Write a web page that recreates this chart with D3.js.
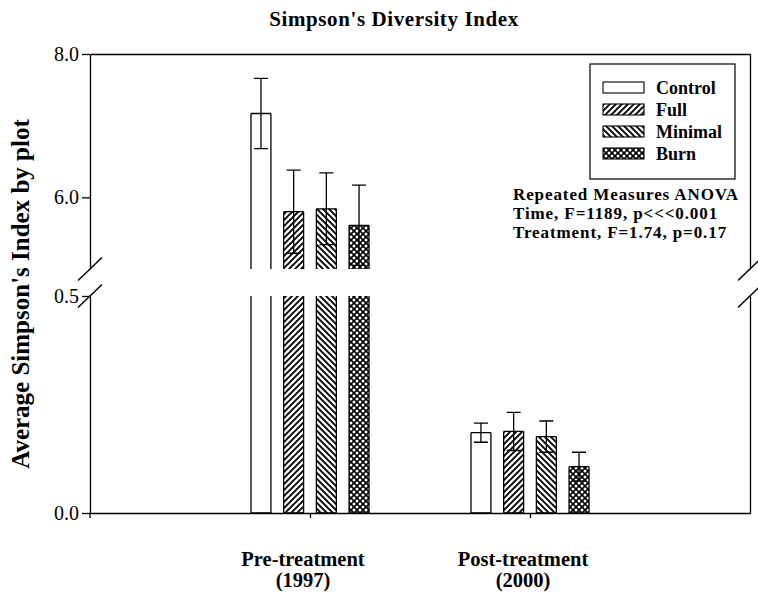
<!DOCTYPE html>
<html><head><meta charset="utf-8">
<script src="https://cdn.jsdelivr.net/npm/d3@7"></script>
<style>body{margin:0;background:#fff;} svg{display:block;font-family:"Liberation Serif","Times New Roman",serif;}</style>
</head><body><svg id="c" width="758" height="593"></svg>
<script>
// ---- data ----
const groups = ["Pre", "Post"];
const groupLabels = [["Pre-treatment", "(1997)"], ["Post-treatment", "(2000)"]];
const series = ["Control", "Full", "Minimal", "Burn"];
const preMeans = [7.17, 5.80, 5.84, 5.61];
const preErr = [0.49, 0.58, 0.50, 0.56];
const postMeans = [0.185, 0.188, 0.176, 0.107];
const postErr = [0.022, 0.044, 0.036, 0.033];
const upperTicks = [6.0, 8.0];
const lowerTicks = [0.0, 0.5];
const upperDomain = [5, 8];
const lowerDomain = [0, 0.5];
const titleText = "Simpson's Diversity Index";
const yLabelText = "Average Simpson's Index by plot";
const anovaLines = ["Repeated Measures ANOVA", "Time, F=1189, p<<<0.001", "Treatment, F=1.74, p=0.17"];

const means = [preMeans, postMeans];
const errs = [preErr, postErr];

// ---- layout ----
const L = 90, R = 750, T = 54, B = 513;
const upBottom = 269, loTop = 296;
const svg = d3.select("#c");

const yUp = d3.scaleLinear().domain(upperDomain).range([upBottom, T]);
const yLo = d3.scaleLinear().domain(lowerDomain).range([B, loTop]);
const x0 = d3.scalePoint().domain(groups).range([L, R]).padding(1);
const x1 = d3.scaleBand().domain(series).range([-65.4, 65.4]).paddingInner(0.39).paddingOuter(0.195);

// ---- patterns ----
const defs = svg.append("defs");
const pf = defs.append("pattern").attr("id", "p-full").attr("patternUnits", "userSpaceOnUse").attr("width", 6).attr("height", 6);
pf.append("rect").attr("width", 6).attr("height", 6).attr("fill", "#fff");
pf.append("path").attr("d", "M0,6L6,0M-1,1L1,-1M5,7L7,5").attr("stroke", "#000").attr("stroke-width", 1.9);
const pm = defs.append("pattern").attr("id", "p-min").attr("patternUnits", "userSpaceOnUse").attr("width", 6).attr("height", 6);
pm.append("rect").attr("width", 6).attr("height", 6).attr("fill", "#fff");
pm.append("path").attr("d", "M0,0L6,6M5,-1L7,1M-1,5L1,7").attr("stroke", "#000").attr("stroke-width", 1.9);
const pb = defs.append("pattern").attr("id", "p-burn").attr("patternUnits", "userSpaceOnUse").attr("width", 6).attr("height", 6);
pb.append("rect").attr("width", 6).attr("height", 6).attr("fill", "#000");
[[0,0],[6,0],[0,6],[6,6],[3,3]].forEach(([cx,cy]) => pb.append("circle").attr("cx", cx).attr("cy", cy).attr("r", 1.5).attr("fill", "#fff"));
const fills = {Control: "#fff", Full: "url(#p-full)", Minimal: "url(#p-min)", Burn: "url(#p-burn)"};

// ---- bars ----
const barG = svg.append("g");
groups.forEach((g, gi) => {
  series.forEach((s, si) => {
    const v = means[gi][si], e = errs[gi][si];
    const x = x0(g) + x1(s), w = x1.bandwidth();
    const segs = [];
    if (v > lowerDomain[1]) {
      segs.push([yUp(v), yUp(upperDomain[0]), true, false]);
      segs.push([yLo(lowerDomain[1]), yLo(0), false, true]);
    } else {
      segs.push([yLo(v), yLo(0), true, true]);
    }
    segs.forEach(([y0, y1, top, bot]) => {
      barG.append("rect").attr("x", x).attr("y", y0).attr("width", w).attr("height", y1 - y0)
        .attr("fill", fills[s]).attr("stroke", "none");
      let d = `M${x},${y0}V${y1}M${x + w},${y0}V${y1}`;
      if (top) d += `M${x},${y0}H${x + w}`;
      if (bot) d += `M${x},${y1}H${x + w}`;
      barG.append("path").attr("d", d).attr("stroke", "#000").attr("stroke-width", 1.3).attr("fill", "none");
    });
    const sc = v > lowerDomain[1] ? yUp : yLo;
    const cx = x + w / 2, ya = sc(v + e), yb = sc(v - e);
    barG.append("path").attr("d", `M${cx},${ya}V${yb}M${cx-7},${ya}H${cx+7}M${cx-7},${yb}H${cx+7}`)
      .attr("stroke", "#000").attr("stroke-width", 1.3).attr("fill", "none");
  });
});

// ---- axes ----
function styleAxis(sel) {
  sel.selectAll("path,line").attr("stroke", "#000").attr("stroke-width", 1.3);
  sel.selectAll("text").attr("font-family", "Liberation Serif, serif").attr("font-size", 20).attr("fill", "#000");
}
svg.append("g").attr("transform", `translate(${L},0)`)
  .call(d3.axisLeft(yUp).tickValues(upperTicks).tickFormat(d3.format(".1f")).tickSize(8).tickSizeOuter(0)).call(styleAxis);
svg.append("g").attr("transform", `translate(${L},0)`)
  .call(d3.axisLeft(yLo).tickValues(lowerTicks).tickFormat(d3.format(".1f")).tickSize(8).tickSizeOuter(0)).call(styleAxis);
svg.append("g").attr("transform", `translate(${R},0)`)
  .call(d3.axisRight(yUp).tickValues([]).tickSizeOuter(0)).call(styleAxis);
svg.append("g").attr("transform", `translate(${R},0)`)
  .call(d3.axisRight(yLo).tickValues([]).tickSizeOuter(0)).call(styleAxis);
svg.append("g").attr("transform", `translate(0,${T})`)
  .call(d3.axisTop(x0).tickValues([]).tickSizeOuter(0)).call(styleAxis);
svg.append("g").attr("transform", `translate(0,${B})`)
  .call(d3.axisBottom(x0).tickSize(5).tickSizeOuter(0).tickFormat("")).call(styleAxis);
svg.append("line").attr("x1", L).attr("x2", L).attr("y1", B).attr("y2", B + 5).attr("stroke", "#000").attr("stroke-width", 1.3);

// x labels
groups.forEach((g, gi) => {
  const t = svg.append("text").attr("text-anchor", "middle").attr("font-weight", "bold").attr("font-size", 20.5).attr("fill", "#000");
  groupLabels[gi].forEach((ln, li) => {
    t.append("tspan").attr("x", x0(g) - 7).attr("y", 566 + li * 21).text(ln);
  });
});

// break marks
const brk = svg.append("g").attr("stroke", "#000").attr("stroke-width", 1.5);
[L, R].forEach(xx => {
  [upBottom, loTop].forEach(yy => {
    brk.append("line").attr("x1", xx - 12).attr("y1", yy + 11.5).attr("x2", xx + 12).attr("y2", yy - 11.5);
  });
});

// ---- title & y label ----
svg.append("text").attr("x", 394).attr("y", 26).attr("text-anchor", "middle").attr("font-weight", "bold")
  .attr("font-size", 21).attr("letter-spacing", 0.6).text(titleText);
svg.append("text").attr("transform", "translate(29,294) rotate(-90)").attr("text-anchor", "middle")
  .attr("font-weight", "bold").attr("font-size", 25).text(yLabelText);

// ---- legend ----
const lg = svg.append("g");
lg.append("rect").attr("x", 590).attr("y", 64).attr("width", 145).attr("height", 115).attr("fill", "#fff").attr("stroke", "#000").attr("stroke-width", 1.2);
series.forEach((s, i) => {
  const yy = 82 + i * 22;
  lg.append("rect").attr("x", 603).attr("y", yy).attr("width", 41).attr("height", 11).attr("fill", fills[s]).attr("stroke", "#000").attr("stroke-width", 1.1);
  lg.append("text").attr("x", 656).attr("y", yy + 12).attr("font-weight", "bold").attr("font-size", 18).text(s);
});

// ---- ANOVA text ----
anovaLines.forEach((ln, i) => svg.append("text").attr("font-weight", "bold").attr("font-size", 17)
  .attr("letter-spacing", 0.9).attr("x", 513).attr("y", 200 + i * 19).text(ln));
</script></body></html>
